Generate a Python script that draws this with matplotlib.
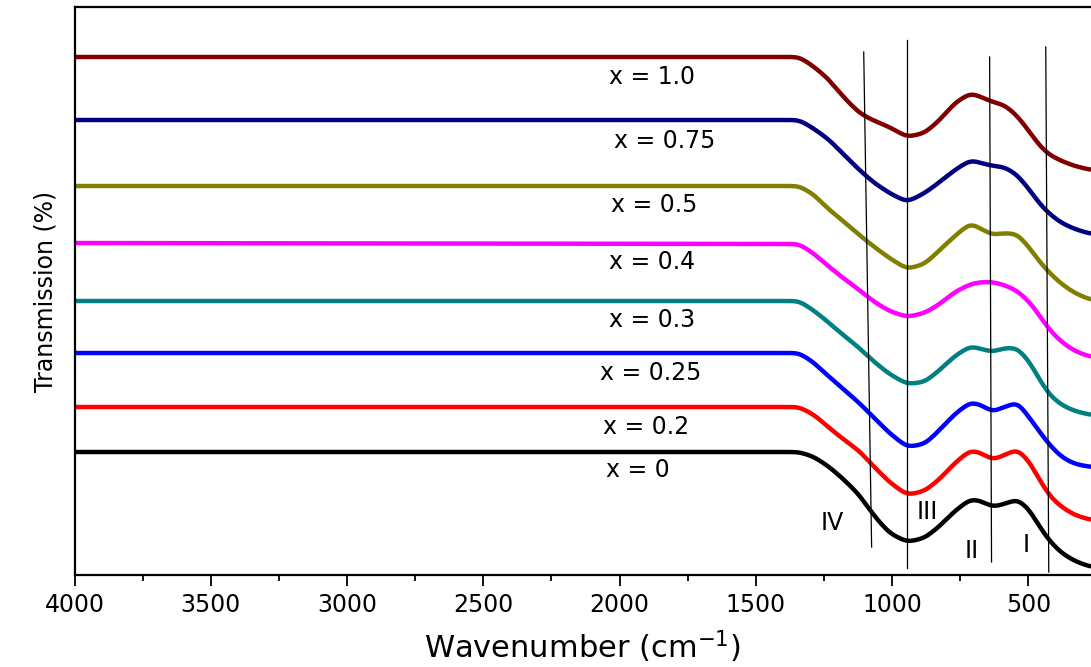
import numpy as np
import matplotlib
matplotlib.use('Agg')
import matplotlib.pyplot as plt

wn = [4000, 1340, 1285, 1230, 1175, 1120, 1065, 1010, 945, 880, 825, 770,
      712, 672, 632, 587, 540, 495, 458, 422, 378, 330, 270]

# transmission values (arbitrary units, curves are offset)
t_00 = [123, 123, 118, 108, 95, 80, 59, 42, 33, 37, 49, 64, 76, 74, 68, 71, 76, 65, 48, 34, 22, 14, 8]
t_02 = [168, 168, 160, 147, 135, 124, 108, 93, 80, 84, 96, 112, 125, 122, 115, 120, 126, 113, 95, 79, 68, 60, 55]
t_025 = [222, 222, 212, 198, 185, 172, 157, 142, 128, 131, 145, 161, 173, 170, 163, 168, 173, 157, 143, 130, 118, 111, 108]
t_03 = [274, 274, 264, 252, 239, 227, 213, 201, 191, 193, 205, 219, 229, 226, 223, 227, 227, 213, 195, 180, 170, 164, 160]
t_04 = [332, 331, 321, 308, 296, 285, 273, 264, 258, 262, 271, 283, 291, 293, 293, 290, 284, 273, 259, 245, 233, 224, 218]
t_05 = [389, 389, 380, 365, 353, 340, 328, 317, 306, 311, 325, 339, 352, 346, 340, 342, 341, 327, 313, 302, 291, 282, 275]
t_075 = [455, 455, 446, 435, 420, 405, 392, 382, 373, 382, 393, 405, 415, 412, 409, 408, 400, 385, 371, 361, 352, 346, 341]
t_10 = [518, 518, 508, 495, 477, 462, 454, 448, 438, 442, 455, 472, 482, 478, 473, 470, 459, 443, 429, 420, 414, 409, 405]

series = [t_00, t_02, t_025, t_03, t_04, t_05, t_075, t_10]
colors = ['black', '#ff0000', '#0000ff', '#008080', '#ff00ff', '#808000', '#000080', '#800000']

labels = ['x = 0', 'x = 0.2', 'x = 0.25', 'x = 0.3', 'x = 0.4', 'x = 0.5', 'x = 0.75', 'x = 1.0']
label_wn = [2050, 2060, 2070, 2040, 2040, 2030, 2020, 2040]
label_t = [105, 148, 202, 255, 313, 370, 434, 498]

# band marker lines: (wn top, t top, wn bottom, t bottom)
bands = [(1104, 523, 1075, 28), (947, 535, 947, 7), (642, 518, 635, 13), (436, 528, 425, 3)]
band_names = ['IV', 'III', 'II', 'I']
band_wn = [1218, 869, 708, 506]
band_t = [52, 63, 24, 30]

plt.rcParams['font.family'] = 'DejaVu Sans'

fig = plt.figure(figsize=(10.91, 6.67), dpi=100)
ax = fig.add_axes([0.0683, 0.1379, 0.9317, 0.8516])

# smooth the read points a little so the curves look like spectra
grid = np.arange(260, 4001, 1.0)
sigma = 17.0
k = np.arange(-60, 61)
kernel = np.exp(-0.5 * (k / sigma) ** 2)
kernel /= kernel.sum()
for t, c in zip(series, colors):
    y = np.interp(grid, wn[::-1], t[::-1])
    yp = np.concatenate([np.full(60, y[0]), y, np.full(60, y[-1])])
    ys = np.convolve(yp, kernel, mode='same')[60:-60]
    ax.plot(grid, ys, color=c, lw=3.2, solid_capstyle='butt')

for lab, x, y in zip(labels, label_wn, label_t):
    ax.text(x, y, lab, fontsize=17, ha='left', va='center')

for b in bands:
    ax.plot([b[0], b[2]], [b[1], b[3]], color='black', lw=0.9)
for name, x, y in zip(band_names, band_wn, band_t):
    ax.text(x, y, name, fontsize=17, ha='center', va='center')

ax.set_xlim(4000, 270)
ax.set_ylim(0, 568)
ax.set_xticks(range(4000, 499, -500))
ax.set_xticks(range(3750, 270, -500), minor=True)
ax.tick_params(axis='x', which='major', direction='out', length=8, width=1.3, labelsize=17, pad=5)
ax.tick_params(axis='x', which='minor', direction='out', length=4.5, width=1.3)
ax.set_yticks([])
for s in ['left', 'top', 'bottom']:
    ax.spines[s].set_linewidth(1.6)
ax.spines['right'].set_visible(False)

ax.set_xlabel('Wavenumber (cm$^{-1}$)', fontsize=22, labelpad=8)
ax.set_ylabel('Transmission (%)', fontsize=17, labelpad=12)

fig.savefig('out.png', dpi=100)
